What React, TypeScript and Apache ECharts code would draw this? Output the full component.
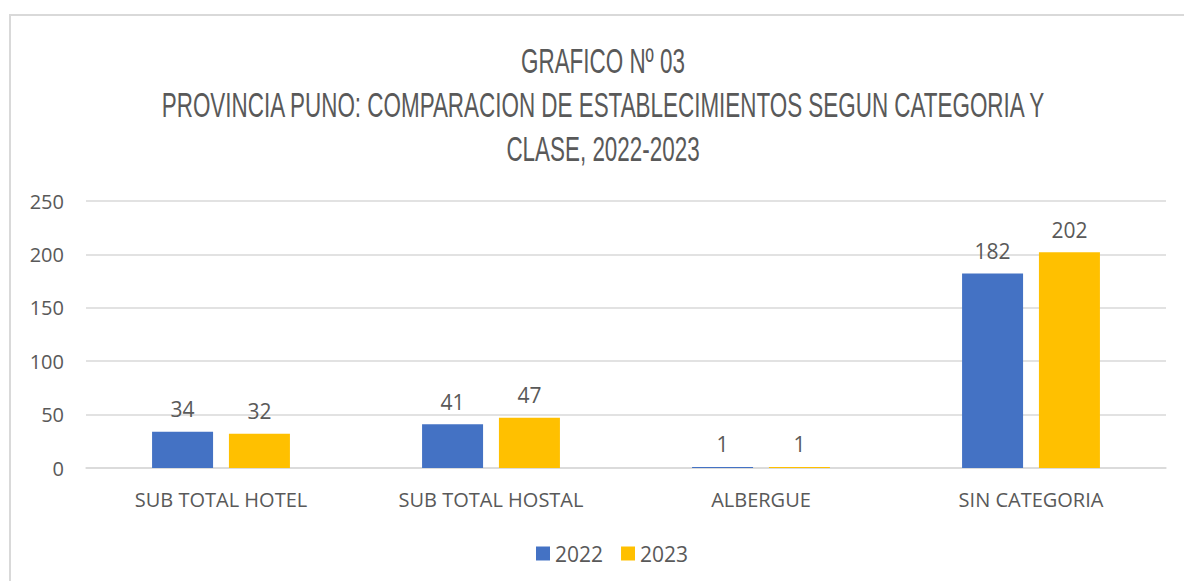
import React, { useEffect, useRef } from "react";
import * as echarts from "echarts";

const categories = ["SUB TOTAL HOTEL", "SUB TOTAL HOSTAL", "ALBERGUE", "SIN CATEGORIA"];
const values2022 = [34, 41, 1, 182];
const values2023 = [32, 47, 1, 202];
const seriesNames = ["2022", "2023"];
const titleLines = [
  "GRAFICO Nº 03",
  "PROVINCIA PUNO: COMPARACION DE ESTABLECIMIENTOS SEGUN CATEGORIA Y",
  "CLASE, 2022-2023",
];

export default function App() {
  const ref = useRef<HTMLDivElement>(null);
  useEffect(() => {
    const chart = echarts.init(ref.current!, null, { renderer: "svg" });
    const labelFont = "Open Sans, Liberation Sans, sans-serif";
    const textColor = "#595959";
    const titleFont = "36px 'Liberation Sans', sans-serif";
    let scale = 0.62;
    try {
      const c = document.createElement("canvas").getContext("2d")!;
      c.font = titleFont;
      const w = c.measureText(titleLines[1]).width;
      if (w > 0) scale = 885 / w;
    } catch (e) {}
    chart.setOption({
      animation: false,
      backgroundColor: "#ffffff",
      graphic: [
        {
          type: "rect",
          shape: { x: 10, y: 15, width: 1200, height: 600 },
          style: { fill: "none", stroke: "#d9d9d9", lineWidth: 2 },
          silent: true,
        },
        ...titleLines.map((t, i) => ({
          type: "text",
          x: 603,
          y: 60 + i * 44,
          scaleX: scale,
          style: {
            text: t,
            fill: textColor,
            font: titleFont,
            textAlign: "center",
            textVerticalAlign: "middle",
          },
        })),
      ],
      legend: {
        bottom: 12,
        left: 531,
        itemWidth: 14,
        itemHeight: 14,
        itemGap: 18,
        icon: "rect",
        textStyle: { color: textColor, fontSize: 21, fontFamily: labelFont },
        data: seriesNames,
      },
      grid: { left: 86, right: 18, top: 201, bottom: 113, containLabel: false },
      xAxis: {
        type: "category",
        data: categories,
        axisLine: { show: true, lineStyle: { color: "#d9d9d9", width: 1.5 } },
        axisTick: { show: false },
        axisLabel: { color: textColor, fontSize: 20, fontFamily: labelFont, margin: 21 },
      },
      yAxis: {
        type: "value",
        min: 0,
        max: 250,
        interval: 50,
        axisLine: { show: false },
        axisTick: { show: false },
        splitLine: { lineStyle: { color: "#d9d9d9", width: 1.5 } },
        axisLabel: { color: textColor, fontSize: 20, fontFamily: labelFont, margin: 22 },
      },
      series: [
        {
          name: seriesNames[0],
          type: "bar",
          data: values2022,
          barWidth: 61,
          barGap: "26%",
          itemStyle: { color: "#4472C4" },
          label: { show: true, position: "top", color: textColor, fontSize: 21, fontFamily: labelFont, distance: 12 },
        },
        {
          name: seriesNames[1],
          type: "bar",
          data: values2023,
          barWidth: 61,
          barGap: "26%",
          itemStyle: { color: "#FFC000" },
          label: { show: true, position: "top", color: textColor, fontSize: 21, fontFamily: labelFont, distance: 12 },
        },
      ],
    });
    return () => chart.dispose();
  }, []);
  return (
    <div style={{ position: "absolute", left: 0, top: 0, width: 1184, height: 581, background: "#fff" }}>
      <div ref={ref} style={{ width: 1184, height: 581 }} />
    </div>
  );
}
